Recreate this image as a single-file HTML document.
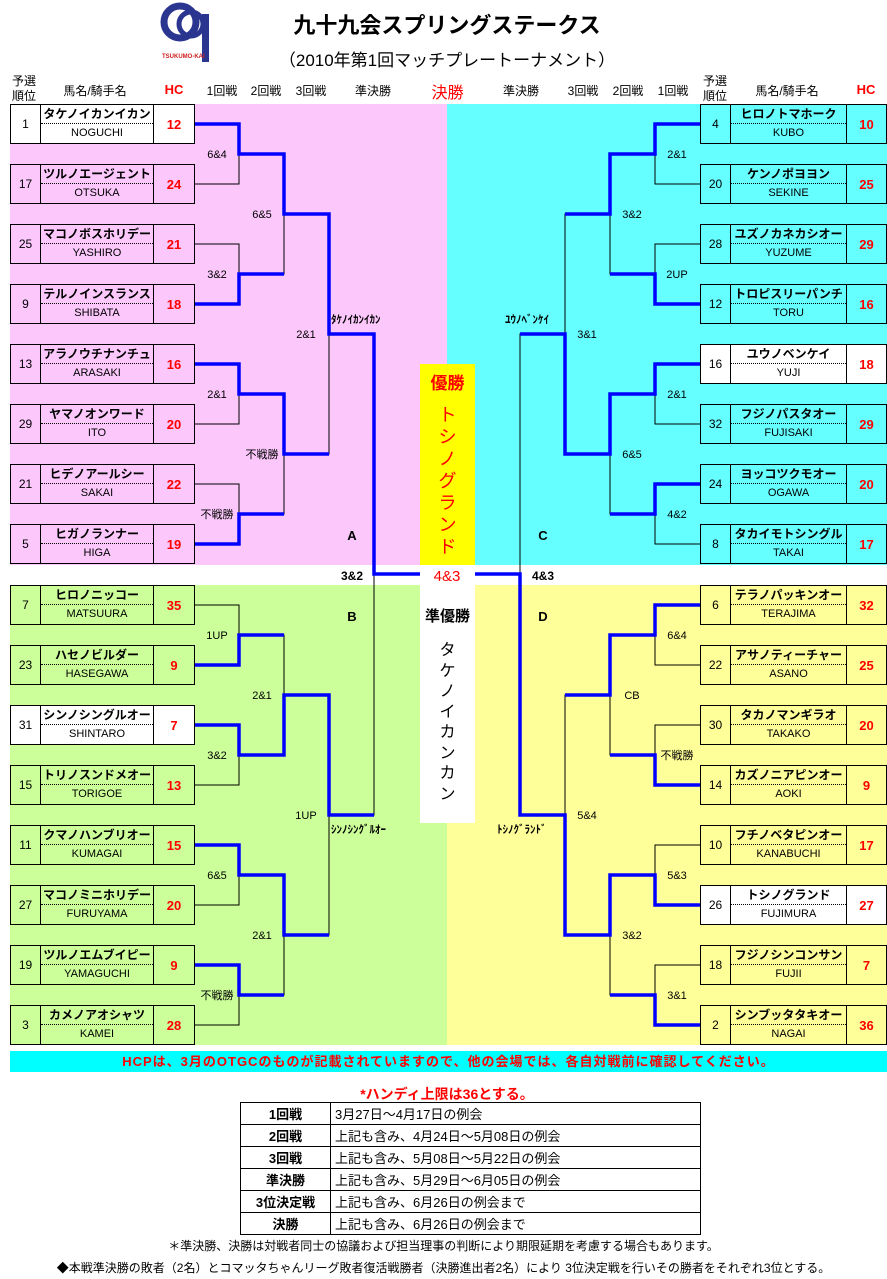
<!DOCTYPE html>
<html><head><meta charset="utf-8">
<style>
*{margin:0;padding:0;box-sizing:border-box}
body{width:887px;height:1279px;position:relative;background:#fff;font-family:"Liberation Sans","Noto Sans CJK JP",sans-serif;overflow:hidden;color:#000}
.a{position:absolute}
.b{position:absolute;height:40px;border:1px solid #000;display:flex;font-size:11px}
.b.l{width:185px}.b.rt{width:187px}
.b .r{width:30px;border-right:1px solid #000;display:flex;align-items:center;justify-content:center;font-size:12px}
.b.l .n{width:113px}.b.rt .n{width:116px}
.b .n{border-right:1px solid #000;display:flex;flex-direction:column}
.b .t{height:19px;border-bottom:1px dotted #000;text-align:center;font-weight:bold;font-size:12px;line-height:18px}
.b .e{flex:1;text-align:center;line-height:19px;font-size:11px}
.b .h{flex:1;display:flex;align-items:center;justify-content:center;color:#f00;font-weight:bold;font-size:13px}
.hd{position:absolute;font-size:12px;text-align:center;white-space:nowrap}
table{border-collapse:collapse}
td{border:1px solid #000;height:22px;font-size:13px;padding:0 4px}
</style></head><body>
<!-- backgrounds -->
<div class="a" style="left:10px;top:104px;width:437px;height:461px;background:#fcc8fc"></div>
<div class="a" style="left:447px;top:104px;width:440px;height:461px;background:#66ffff"></div>
<div class="a" style="left:10px;top:585px;width:437px;height:460px;background:#ccff99"></div>
<div class="a" style="left:447px;top:585px;width:440px;height:460px;background:#ffff99"></div>
<div class="a" style="left:420px;top:364px;width:55px;height:201px;background:#ffff00"></div>
<div class="a" style="left:420px;top:585px;width:55px;height:238px;background:#fff"></div>

<!-- logo -->
<svg class="a" style="left:158px;top:0" width="66" height="66" viewBox="0 0 66 66">
<circle cx="22" cy="22" r="16" fill="none" stroke="#2a3590" stroke-width="7"/>
<circle cx="33" cy="24" r="12" fill="none" stroke="#2a3590" stroke-width="5"/>
<rect x="44" y="14" width="7" height="48" fill="#2a3590"/>
<text x="4" y="58" font-size="6" fill="#d02020" font-weight="bold" font-family="Liberation Sans">TSUKUMO-KAI</text>
</svg>
<div class="hd" style="left:247px;top:8px;width:400px;font-size:22px;font-weight:bold">九十九会スプリングステークス</div>
<div class="hd" style="left:247px;top:46px;width:400px;font-size:17px">（2010年第1回マッチプレートーナメント）</div>

<!-- column headers -->
<div class="hd" style="left:8px;top:74px;width:32px;line-height:15px">予選<br>順位</div>
<div class="hd" style="left:50px;top:82px;width:90px">馬名/騎手名</div>
<div class="hd" style="left:154px;top:82px;width:40px;color:#f00;font-weight:bold;font-size:13px">HC</div>
<div class="hd" style="left:202px;top:82px;width:40px">1回戦</div>
<div class="hd" style="left:246px;top:82px;width:40px">2回戦</div>
<div class="hd" style="left:291px;top:82px;width:40px">3回戦</div>
<div class="hd" style="left:348px;top:82px;width:50px">準決勝</div>
<div class="hd" style="left:420px;top:79px;width:55px;color:#f00;font-size:16px">決勝</div>
<div class="hd" style="left:496px;top:82px;width:50px">準決勝</div>
<div class="hd" style="left:563px;top:82px;width:40px">3回戦</div>
<div class="hd" style="left:608px;top:82px;width:40px">2回戦</div>
<div class="hd" style="left:653px;top:82px;width:40px">1回戦</div>
<div class="hd" style="left:699px;top:74px;width:32px;line-height:15px">予選<br>順位</div>
<div class="hd" style="left:742px;top:82px;width:90px">馬名/騎手名</div>
<div class="hd" style="left:846px;top:82px;width:40px;color:#f00;font-weight:bold;font-size:13px">HC</div>

<svg class="a" style="left:0;top:0" width="887" height="1050">
<g fill="none" stroke="#000" stroke-width="1">
<path d="M195 124H239V184H195M195 244H239V304H195M195 364H239V424H195M195 484H239V544H195"/>
<path d="M195 605H239V665H195M195 725H239V785H195M195 845H239V905H195M195 965H239V1025H195"/>
<path d="M239 154H284V274H239M239 394H284V514H239M239 635H284V755H239M239 875H284V995H239"/>
<path d="M284 214H329V454H284M284 695H329V935H284M329 334H374V815H329"/>
<path d="M700 124H655V184H700M700 244H655V304H700M700 364H655V424H700M700 484H655V544H700"/>
<path d="M700 605H655V665H700M700 725H655V785H700M700 845H655V905H700M700 965H655V1025H700"/>
<path d="M655 154H610V274H655M655 394H610V514H655M655 635H610V755H655M655 875H610V995H655"/>
<path d="M610 214H565V454H610M610 695H565V935H610M565 334H520V815H565"/>
</g>
<g fill="none" stroke="#0000ff" stroke-width="3.5">
<path d="M195 124H239V154H284V214H329V334H374V574H420"/>
<path d="M195 304H239V274H284"/>
<path d="M195 364H239V394H284V454H329"/>
<path d="M195 544H239V514H284"/>
<path d="M195 665H239V635H284"/>
<path d="M195 725H239V755H284V695H329V815H374"/>
<path d="M195 845H239V875H284V935H329"/>
<path d="M195 965H239V995H284"/>
<path d="M700 124H655V154H610V214H565"/>
<path d="M700 304H655V274H610"/>
<path d="M700 364H655V394H610V454H565V334H520"/>
<path d="M700 484H655V514H610"/>
<path d="M700 605H655V635H610V695H565"/>
<path d="M700 785H655V755H610"/>
<path d="M700 905H655V875H610V935H565V815H520V574H475"/>
<path d="M700 1025H655V995H610"/>
</g>
<g font-size="11" text-anchor="middle" font-family="Liberation Sans,Noto Sans CJK JP,sans-serif">
<text x="217" y="158">6&amp;4</text><text x="217" y="278">3&amp;2</text><text x="217" y="398">2&amp;1</text><text x="217" y="518">不戦勝</text>
<text x="262" y="218">6&amp;5</text><text x="262" y="458">不戦勝</text><text x="306" y="338">2&amp;1</text>
<text x="217" y="639">1UP</text><text x="217" y="759">3&amp;2</text><text x="217" y="879">6&amp;5</text><text x="217" y="999">不戦勝</text>
<text x="262" y="699">2&amp;1</text><text x="262" y="939">2&amp;1</text><text x="306" y="819">1UP</text>
<text x="677" y="158">2&amp;1</text><text x="677" y="278">2UP</text><text x="677" y="398">2&amp;1</text><text x="677" y="518">4&amp;2</text>
<text x="632" y="218">3&amp;2</text><text x="632" y="458">6&amp;5</text><text x="587" y="338">3&amp;1</text>
<text x="677" y="639">6&amp;4</text><text x="677" y="759">不戦勝</text><text x="677" y="879">5&amp;3</text><text x="677" y="999">3&amp;1</text>
<text x="632" y="699">CB</text><text x="632" y="939">3&amp;2</text><text x="587" y="819">5&amp;4</text>
</g>
<g font-size="11" font-weight="bold" font-family="Liberation Sans,Noto Sans CJK JP,sans-serif">
<text x="331" y="323">ﾀｹﾉｲｶﾝｲｶﾝ</text>
<text x="505" y="323">ﾕｳﾉﾍﾞﾝｹｲ</text>
<text x="331" y="833">ｼﾝﾉｼﾝｸﾞﾙｵｰ</text>
<text x="497" y="833">ﾄｼﾉｸﾞﾗﾝﾄﾞ</text>
<text x="352" y="580" text-anchor="middle" font-size="12">3&amp;2</text>
<text x="543" y="580" text-anchor="middle" font-size="12">4&amp;3</text>
<text x="447" y="581" text-anchor="middle" font-size="15" font-weight="normal" fill="#f00">4&amp;3</text>
<text x="352" y="540" text-anchor="middle" font-size="13">A</text>
<text x="543" y="540" text-anchor="middle" font-size="13">C</text>
<text x="352" y="621" text-anchor="middle" font-size="13">B</text>
<text x="543" y="621" text-anchor="middle" font-size="13">D</text>
</g>
</svg>

<div class="hd" style="left:420px;top:369px;width:55px;color:#f00;font-size:17px;font-weight:bold">優勝</div>
<div class="hd" style="left:420px;top:404px;width:55px;color:#f00;font-size:18px;line-height:22px;white-space:normal">ト<br>シ<br>ノ<br>グ<br>ラ<br>ン<br>ド</div>
<div class="hd" style="left:420px;top:605px;width:55px;font-size:15px;font-weight:bold">準優勝</div>
<div class="hd" style="left:420px;top:641px;width:55px;font-size:16px;line-height:20.5px;white-space:normal">タ<br>ケ<br>ノ<br>イ<br>カ<br>ン<br>カ<br>ン</div>

<!-- Left A -->
<div class="b l" style="left:10px;top:104px;background:#fff"><div class="r">1</div><div class="n"><div class="t">タケノイカンイカン</div><div class="e">NOGUCHI</div></div><div class="h">12</div></div>
<div class="b l" style="left:10px;top:164px"><div class="r">17</div><div class="n"><div class="t">ツルノエージェント</div><div class="e">OTSUKA</div></div><div class="h">24</div></div>
<div class="b l" style="left:10px;top:224px"><div class="r">25</div><div class="n"><div class="t">マコノボスホリデー</div><div class="e">YASHIRO</div></div><div class="h">21</div></div>
<div class="b l" style="left:10px;top:284px"><div class="r">9</div><div class="n"><div class="t">テルノインスランス</div><div class="e">SHIBATA</div></div><div class="h">18</div></div>
<div class="b l" style="left:10px;top:344px"><div class="r">13</div><div class="n"><div class="t">アラノウチナンチュ</div><div class="e">ARASAKI</div></div><div class="h">16</div></div>
<div class="b l" style="left:10px;top:404px"><div class="r">29</div><div class="n"><div class="t">ヤマノオンワード</div><div class="e">ITO</div></div><div class="h">20</div></div>
<div class="b l" style="left:10px;top:464px"><div class="r">21</div><div class="n"><div class="t">ヒデノアールシー</div><div class="e">SAKAI</div></div><div class="h">22</div></div>
<div class="b l" style="left:10px;top:524px"><div class="r">5</div><div class="n"><div class="t">ヒガノランナー</div><div class="e">HIGA</div></div><div class="h">19</div></div>
<!-- Left B -->
<div class="b l" style="left:10px;top:585px"><div class="r">7</div><div class="n"><div class="t">ヒロノニッコー</div><div class="e">MATSUURA</div></div><div class="h">35</div></div>
<div class="b l" style="left:10px;top:645px"><div class="r">23</div><div class="n"><div class="t">ハセノビルダー</div><div class="e">HASEGAWA</div></div><div class="h">9</div></div>
<div class="b l" style="left:10px;top:705px;background:#fff"><div class="r">31</div><div class="n"><div class="t">シンノシングルオー</div><div class="e">SHINTARO</div></div><div class="h">7</div></div>
<div class="b l" style="left:10px;top:765px"><div class="r">15</div><div class="n"><div class="t">トリノスンドメオー</div><div class="e">TORIGOE</div></div><div class="h">13</div></div>
<div class="b l" style="left:10px;top:825px"><div class="r">11</div><div class="n"><div class="t">クマノハンブリオー</div><div class="e">KUMAGAI</div></div><div class="h">15</div></div>
<div class="b l" style="left:10px;top:885px"><div class="r">27</div><div class="n"><div class="t">マコノミニホリデー</div><div class="e">FURUYAMA</div></div><div class="h">20</div></div>
<div class="b l" style="left:10px;top:945px"><div class="r">19</div><div class="n"><div class="t">ツルノエムブイピー</div><div class="e">YAMAGUCHI</div></div><div class="h">9</div></div>
<div class="b l" style="left:10px;top:1005px"><div class="r">3</div><div class="n"><div class="t">カメノアオシャツ</div><div class="e">KAMEI</div></div><div class="h">28</div></div>
<!-- Right C -->
<div class="b rt" style="left:700px;top:104px"><div class="r">4</div><div class="n"><div class="t">ヒロノトマホーク</div><div class="e">KUBO</div></div><div class="h">10</div></div>
<div class="b rt" style="left:700px;top:164px"><div class="r">20</div><div class="n"><div class="t">ケンノポヨヨン</div><div class="e">SEKINE</div></div><div class="h">25</div></div>
<div class="b rt" style="left:700px;top:224px"><div class="r">28</div><div class="n"><div class="t">ユズノカネカシオー</div><div class="e">YUZUME</div></div><div class="h">29</div></div>
<div class="b rt" style="left:700px;top:284px"><div class="r">12</div><div class="n"><div class="t">トロピスリーパンチ</div><div class="e">TORU</div></div><div class="h">16</div></div>
<div class="b rt" style="left:700px;top:344px;background:#fff"><div class="r">16</div><div class="n"><div class="t">ユウノベンケイ</div><div class="e">YUJI</div></div><div class="h">18</div></div>
<div class="b rt" style="left:700px;top:404px"><div class="r">32</div><div class="n"><div class="t">フジノパスタオー</div><div class="e">FUJISAKI</div></div><div class="h">29</div></div>
<div class="b rt" style="left:700px;top:464px"><div class="r">24</div><div class="n"><div class="t">ヨッコツクモオー</div><div class="e">OGAWA</div></div><div class="h">20</div></div>
<div class="b rt" style="left:700px;top:524px"><div class="r">8</div><div class="n"><div class="t">タカイモトシングル</div><div class="e">TAKAI</div></div><div class="h">17</div></div>
<!-- Right D -->
<div class="b rt" style="left:700px;top:585px"><div class="r">6</div><div class="n"><div class="t">テラノパッキンオー</div><div class="e">TERAJIMA</div></div><div class="h">32</div></div>
<div class="b rt" style="left:700px;top:645px"><div class="r">22</div><div class="n"><div class="t">アサノティーチャー</div><div class="e">ASANO</div></div><div class="h">25</div></div>
<div class="b rt" style="left:700px;top:705px"><div class="r">30</div><div class="n"><div class="t">タカノマンギラオ</div><div class="e">TAKAKO</div></div><div class="h">20</div></div>
<div class="b rt" style="left:700px;top:765px"><div class="r">14</div><div class="n"><div class="t">カズノニアピンオー</div><div class="e">AOKI</div></div><div class="h">9</div></div>
<div class="b rt" style="left:700px;top:825px"><div class="r">10</div><div class="n"><div class="t">フチノベタピンオー</div><div class="e">KANABUCHI</div></div><div class="h">17</div></div>
<div class="b rt" style="left:700px;top:885px;background:#fff"><div class="r">26</div><div class="n"><div class="t">トシノグランド</div><div class="e">FUJIMURA</div></div><div class="h">27</div></div>
<div class="b rt" style="left:700px;top:945px"><div class="r">18</div><div class="n"><div class="t">フジノシンコンサン</div><div class="e">FUJII</div></div><div class="h">7</div></div>
<div class="b rt" style="left:700px;top:1005px"><div class="r">2</div><div class="n"><div class="t">シンブッタタキオー</div><div class="e">NAGAI</div></div><div class="h">36</div></div>

<!-- banner -->
<div class="a" style="left:10px;top:1051px;width:877px;height:21px;background:#00ffff;color:#f00;font-weight:bold;font-size:13px;text-align:center;line-height:21px;letter-spacing:1px">HCPは、3月のOTGCのものが記載されていますので、他の会場では、各自対戦前に確認してください。</div>
<div class="hd" style="left:247px;top:1084px;width:400px;color:#f00;font-weight:bold;font-size:14px">*ハンディ上限は36とする。</div>
<table class="a" style="left:240px;top:1102px;width:461px">
<tr><td style="width:90px;text-align:center;font-weight:bold">1回戦</td><td>3月27日～4月17日の例会</td></tr>
<tr><td style="text-align:center;font-weight:bold">2回戦</td><td>上記も含み、4月24日～5月08日の例会</td></tr>
<tr><td style="text-align:center;font-weight:bold">3回戦</td><td>上記も含み、5月08日～5月22日の例会</td></tr>
<tr><td style="text-align:center;font-weight:bold">準決勝</td><td>上記も含み、5月29日～6月05日の例会</td></tr>
<tr><td style="text-align:center;font-weight:bold">3位決定戦</td><td>上記も含み、6月26日の例会まで</td></tr>
<tr><td style="text-align:center;font-weight:bold">決勝</td><td>上記も含み、6月26日の例会まで</td></tr>
</table>
<div class="hd" style="left:0;top:1237px;width:887px;font-size:12px">＊準決勝、決勝は対戦者同士の協議および担当理事の判断により期限延期を考慮する場合もあります。</div>
<div class="hd" style="left:0;top:1259px;width:887px;font-size:12px">◆本戦準決勝の敗者（2名）とコマッタちゃんリーグ敗者復活戦勝者（決勝進出者2名）により 3位決定戦を行いその勝者をそれぞれ3位とする。</div>
</body></html>
